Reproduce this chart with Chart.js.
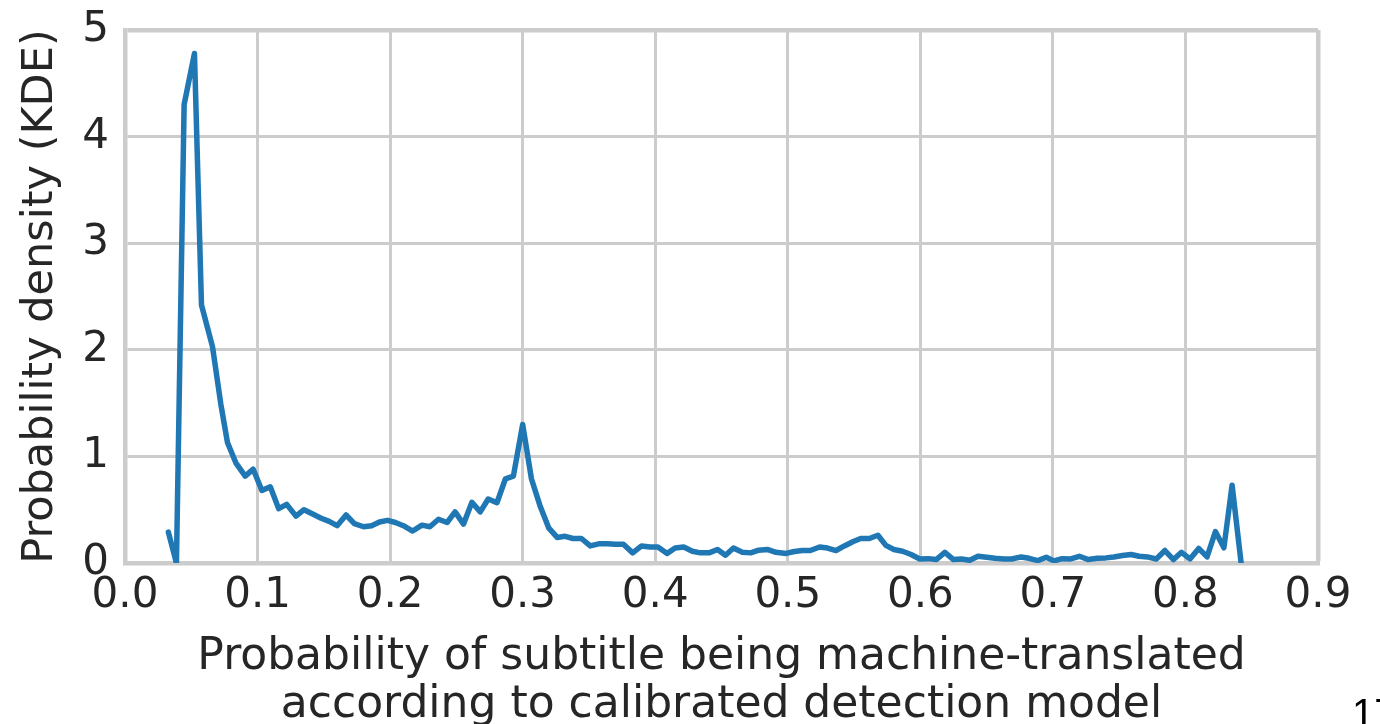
<!DOCTYPE html>
<html>
<head>
<meta charset="utf-8">
<script src="https://cdn.jsdelivr.net/npm/chart.js@4"></script>
<style>
  html, body { margin: 0; padding: 0; background: #ffffff; overflow: hidden; }
  #wrap { position: relative; width: 1380px; height: 724px; overflow: hidden; }
  #page-num {
    position: absolute; left: 1352px; top: 693px;
    font-family: "Liberation Sans", Arial, sans-serif; font-size: 40px; line-height: 1; color: #000;
    white-space: nowrap;
  }
</style>
</head>
<body>
<div id="wrap">
  <canvas id="kdeChart" width="1380" height="724"></canvas>
  <div id="page-num">17</div>
</div>
<script>
// Data
const probX = [
  0.0327, 0.0388, 0.0446, 0.0524, 0.0577, 0.066, 0.0723, 0.0773, 0.0836, 0.0907,
  0.0967, 0.1033, 0.1096, 0.1159, 0.122, 0.129, 0.135, 0.1416, 0.148, 0.154,
  0.160, 0.1668, 0.173, 0.180, 0.186, 0.192, 0.198, 0.204, 0.210, 0.217,
  0.224, 0.230, 0.2365, 0.243, 0.249, 0.2554, 0.2617, 0.268, 0.274, 0.2806,
  0.287, 0.293, 0.300, 0.3066, 0.313, 0.3196, 0.326, 0.332, 0.338, 0.3443,
  0.351, 0.3574, 0.3637, 0.370, 0.376, 0.383, 0.3897, 0.396, 0.402, 0.409,
  0.415, 0.4215, 0.428, 0.434, 0.4406, 0.447, 0.453, 0.459, 0.4657, 0.472,
  0.478, 0.4846, 0.491, 0.4987, 0.505, 0.511, 0.517, 0.524, 0.530, 0.5364,
  0.5427, 0.549, 0.555, 0.5615, 0.568, 0.574, 0.580, 0.5866, 0.593, 0.5996,
  0.606, 0.612, 0.6185, 0.625, 0.631, 0.6373, 0.6435, 0.650, 0.6563, 0.663,
  0.669, 0.676, 0.682, 0.6887, 0.695, 0.7008, 0.707, 0.7134, 0.720, 0.7267,
  0.7335, 0.740, 0.746, 0.7525, 0.759, 0.765, 0.7714, 0.778, 0.7845, 0.791,
  0.797, 0.8034, 0.810, 0.8163, 0.8226, 0.829, 0.8352, 0.842
];
const densityY = [
  0.29, 0.0, 4.30, 4.78, 2.42, 2.03, 1.49, 1.13, 0.94, 0.815,
  0.88, 0.68, 0.715, 0.51, 0.55, 0.44, 0.50, 0.46, 0.42, 0.39,
  0.35, 0.45, 0.37, 0.34, 0.35, 0.385, 0.40, 0.38, 0.35, 0.30,
  0.355, 0.34, 0.41, 0.38, 0.48, 0.365, 0.57, 0.48, 0.60, 0.565,
  0.79, 0.815, 1.30, 0.79, 0.54, 0.33, 0.24, 0.25, 0.23, 0.23,
  0.16, 0.18, 0.18, 0.175, 0.175, 0.095, 0.16, 0.15, 0.15, 0.09,
  0.14, 0.15, 0.11, 0.095, 0.095, 0.127, 0.073, 0.14, 0.10, 0.095,
  0.12, 0.127, 0.10, 0.09, 0.108, 0.117, 0.117, 0.15, 0.14, 0.117,
  0.16, 0.20, 0.23, 0.23, 0.26, 0.165, 0.127, 0.11, 0.08, 0.038,
  0.041, 0.032, 0.10, 0.032, 0.038, 0.025, 0.063, 0.054, 0.044, 0.038,
  0.038, 0.057, 0.044, 0.022, 0.054, 0.020, 0.041, 0.038, 0.063, 0.032,
  0.044, 0.048, 0.057, 0.07, 0.08, 0.063, 0.057, 0.038, 0.117, 0.032,
  0.10, 0.038, 0.137, 0.057, 0.295, 0.143, 0.73, 0.0
];
const xTicks = [0.0, 0.1, 0.2, 0.3, 0.4, 0.5, 0.6, 0.7, 0.8, 0.9];
const yTicks = [0, 1, 2, 3, 4, 5];
const xTitle = ['Probability of subtitle being machine-translated', 'according to calibrated detection model'];
const yTitle = 'Probability density (KDE)';

const textColor = '#262626';
const gridColor = '#cccccc';
const fontFamily = '"DejaVu Sans", sans-serif';

const points = probX.map((x, i) => ({ x: x, y: densityY[i] }));

const ctx = document.getElementById('kdeChart').getContext('2d');
new Chart(ctx, {
  type: 'line',
  data: {
    datasets: [{
      data: points,
      borderColor: '#1f77b4',
      borderWidth: 5.5,
      pointRadius: 0,
      tension: 0,
      fill: false,
      borderJoinStyle: 'round',
      borderCapStyle: 'round'
    }]
  },
  options: {
    responsive: false,
    animation: false,
    layout: { padding: { top: 30, right: 62, left: 0, bottom: 0 } },
    plugins: { legend: { display: false }, tooltip: { enabled: false } },
    scales: {
      x: {
        type: 'linear',
        min: 0,
        max: 0.9,
        afterBuildTicks: (scale) => { scale.ticks = xTicks.map(v => ({ value: v })); },
        afterFit: (scale) => {
          scale.height = 161;
          scale.paddingLeft = 0;
          scale.paddingRight = 0;
        },
        ticks: {
          color: textColor,
          font: { family: fontFamily, size: 42 },
          padding: 8,
          maxRotation: 0,
          autoSkip: false,
          callback: (v) => Number(v).toFixed(1)
        },
        grid: {
          color: gridColor,
          lineWidth: (c) => (c.tick && c.tick.value === 0.9) ? 4.5 : 3,
          drawTicks: false
        },
        border: { display: true, color: gridColor, width: 4.5 },
        title: {
          display: true,
          text: xTitle,
          color: textColor,
          font: { family: fontFamily, size: 44, lineHeight: 1.09 },
          padding: { top: 0, bottom: -6 }
        }
      },
      y: {
        min: 0,
        max: 5,
        afterBuildTicks: (scale) => { scale.ticks = yTicks.map(v => ({ value: v })); },
        afterFit: (scale) => {
          scale.width = 125;
          scale.paddingTop = 0;
          scale.paddingBottom = 0;
        },
        ticks: {
          color: textColor,
          font: { family: fontFamily, size: 42 },
          padding: 16
        },
        grid: {
          color: gridColor,
          lineWidth: (c) => (c.tick && c.tick.value === 5) ? 4.5 : 3,
          drawTicks: false
        },
        border: { display: true, color: gridColor, width: 4.5 },
        title: {
          display: true,
          text: yTitle,
          color: textColor,
          font: { family: fontFamily, size: 43 },
          padding: { top: 15, bottom: 0 }
        }
      }
    }
  }
});
</script>
</body>
</html>
